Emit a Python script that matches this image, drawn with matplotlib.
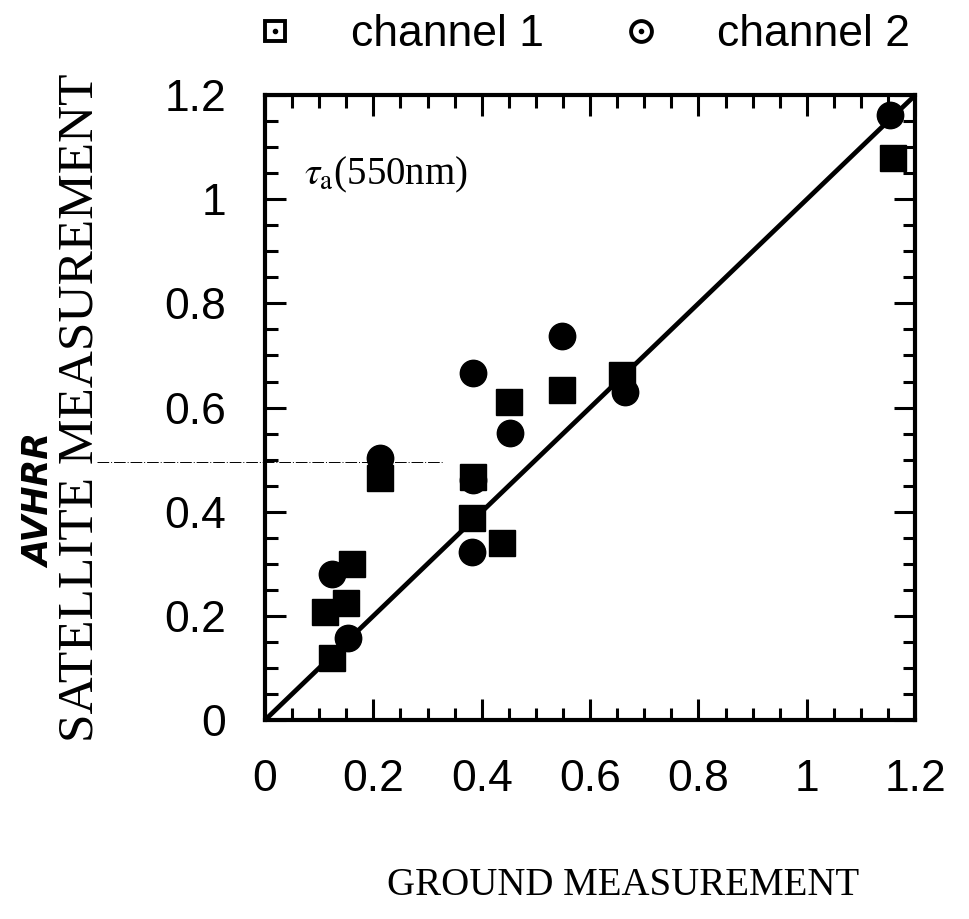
import numpy as np
import matplotlib
matplotlib.use('Agg')
import matplotlib.pyplot as plt
from matplotlib.lines import Line2D
from matplotlib.legend_handler import HandlerTuple
from matplotlib.ticker import MultipleLocator

plt.rcParams['mathtext.fontset'] = 'stix'

# channel 1 (squares)
ch1_x = [0.110, 0.124, 0.150, 0.160, 0.212, 0.384, 0.382, 0.437, 0.450, 0.548, 0.659, 1.159]
ch1_y = [0.207, 0.120, 0.225, 0.300, 0.464, 0.466, 0.388, 0.340, 0.610, 0.633, 0.662, 1.079]
# channel 2 (circles)
ch2_x = [0.124, 0.153, 0.212, 0.384, 0.384, 0.382, 0.452, 0.548, 0.664, 1.153]
ch2_y = [0.280, 0.157, 0.503, 0.666, 0.460, 0.322, 0.551, 0.737, 0.630, 1.161]
# 1:1 line
one_to_one = [0, 1.2]
tick_vals = [0, 0.2, 0.4, 0.6, 0.8, 1, 1.2]
tick_labels = ['0', '0.2', '0.4', '0.6', '0.8', '1', '1.2']

fig = plt.figure(figsize=(9.69, 9.19), dpi=100)
ax = fig.add_axes([0.2735, 0.2165, 0.671, 0.680])

ax.plot(one_to_one, one_to_one, color='black', lw=3.4, zorder=2)
ax.plot(ch1_x, ch1_y, ls='none', marker='s', ms=18.5, mfc='black', mec='black', zorder=3)
ax.plot(ch2_x, ch2_y, ls='none', marker='o', ms=19, mfc='black', mec='black', zorder=3)

# faint scan line crossing the y label
ax.plot([-0.31, 0.33], [0.495, 0.495], color='black', lw=0.7, ls=(0, (12, 2, 1, 2)),
        clip_on=False, zorder=1)

ax.set_xlim(0, 1.2)
ax.set_ylim(0, 1.2)
ax.set_xticks(tick_vals)
ax.set_xticklabels(tick_labels)
ax.set_yticks(tick_vals)
ax.set_yticklabels(tick_labels)
ax.xaxis.set_minor_locator(MultipleLocator(0.05))
ax.yaxis.set_minor_locator(MultipleLocator(0.05))
ax.tick_params(which='both', direction='in', top=True, right=True, width=2.2)
ax.tick_params(which='major', length=15, pad=28, labelsize=32)
ax.tick_params(which='minor', length=9)
for lab in ax.get_xticklabels() + ax.get_yticklabels():
    lab.set_family('Liberation Sans')
for s in ax.spines.values():
    s.set_linewidth(3)

ax.set_xlabel('GROUND MEASUREMENT', family='Liberation Serif', fontsize=28,
              labelpad=48, x=0.55)
ax.set_ylabel('SATELLITE MEASUREMENT', family='Liberation Serif', fontsize=37,
              labelpad=44)

ax.text(0.06, 0.905, r'$\tau_{\rm a}$(550nm)', transform=ax.transAxes,
        family='Liberation Serif', fontsize=28, va='top')

fig.text(0.042, 0.455, 'AVHRR', rotation=90, fontsize=25, fontweight='bold',
         style='italic', ha='center', va='center')

# legend: open markers with a centre dot
h1 = (Line2D([], [], ls='none', marker='s', ms=15, mfc='white', mec='black', mew=2.8),
      Line2D([], [], ls='none', marker='.', ms=6, color='black'))
h2 = (Line2D([], [], ls='none', marker='o', ms=15, mfc='white', mec='black', mew=2.8),
      Line2D([], [], ls='none', marker='.', ms=6, color='black'))
leg = fig.legend([h1, h2], ['channel 1', 'channel 2'], ncol=2, frameon=False,
                 loc='center', bbox_to_anchor=(0.60, 0.962),
                 prop={'family': 'Liberation Sans', 'size': 32},
                 handler_map={tuple: HandlerTuple(ndivide=1)},
                 handlelength=1.0, handletextpad=1.2, columnspacing=1.7)

fig.savefig('out.png', dpi=100)
